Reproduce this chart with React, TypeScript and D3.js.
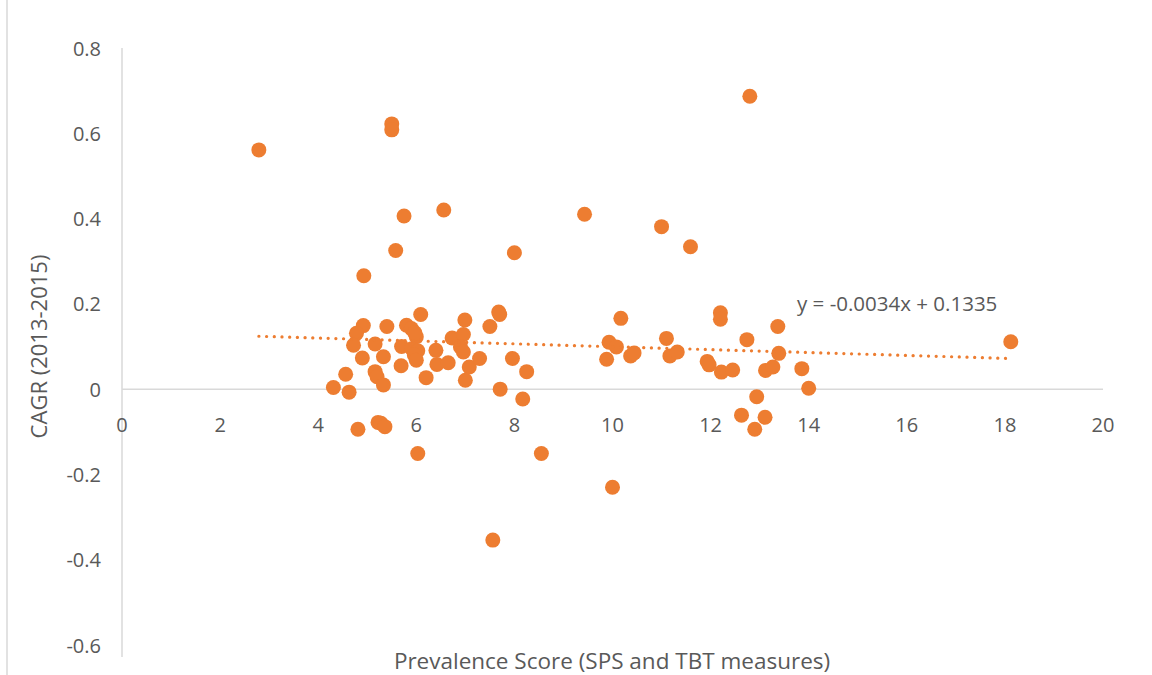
import React from "react";
import * as d3 from "d3";

const prevalence: number[] = [
  2.79, 5.5, 5.5, 5.75, 5.58, 4.93, 6.56, 8.0, 9.43, 11.0, 11.59, 12.8, 18.12,
  4.92, 4.78, 4.72, 4.9, 5.4, 5.16, 5.33, 5.16, 5.2, 5.33, 4.56, 4.31, 4.63,
  5.8, 5.9, 6.09, 6.0, 5.97, 5.7, 5.91, 6.03, 5.96, 6.0, 5.69, 6.2,
  6.4, 6.42, 6.65, 6.73, 6.96, 6.9, 6.96, 6.99, 7.08, 7.0,
  7.29, 7.5, 7.68, 7.7, 7.71, 7.96, 8.25, 8.17,
  4.81, 5.22, 5.28, 5.36, 6.03, 8.55, 10.0, 7.56,
  10.17, 9.93, 10.08, 9.88, 10.37, 10.44, 11.1, 11.17, 11.32, 12.2, 12.2,
  11.93, 11.97, 12.22, 12.45, 12.74, 13.37, 13.39, 13.12, 13.27, 13.86, 14.0,
  12.94, 12.63, 13.11, 12.9,
];

const cagr: number[] = [
  0.561, 0.622, 0.608, 0.406, 0.325, 0.266, 0.42, 0.32, 0.41, 0.381, 0.334, 0.687, 0.111,
  0.149, 0.131, 0.103, 0.073, 0.147, 0.106, 0.076, 0.041, 0.029, 0.01, 0.035, 0.004, -0.007,
  0.15, 0.142, 0.175, 0.123, 0.132, 0.1, 0.095, 0.09, 0.08, 0.068, 0.055, 0.027,
  0.091, 0.058, 0.062, 0.12, 0.128, 0.099, 0.087, 0.162, 0.052, 0.021,
  0.072, 0.147, 0.181, 0.175, 0.0, 0.072, 0.041, -0.023,
  -0.094, -0.078, -0.08, -0.088, -0.151, -0.151, -0.23, -0.354,
  0.166, 0.11, 0.099, 0.07, 0.078, 0.085, 0.119, 0.078, 0.087, 0.179, 0.164,
  0.065, 0.057, 0.04, 0.045, 0.116, 0.147, 0.084, 0.044, 0.052, 0.048, 0.002,
  -0.018, -0.061, -0.066, -0.094,
];

const xTicks: number[] = [0, 2, 4, 6, 8, 10, 12, 14, 16, 18, 20];
const yTicks: number[] = [0.8, 0.6, 0.4, 0.2, 0, -0.2, -0.4, -0.6];

const trendSlope = -0.0034;
const trendIntercept = 0.1335;
const trendLabel = "y = -0.0034x + 0.1335";
const xTitle = "Prevalence Score (SPS and TBT measures)";
const yTitle = "CAGR (2013-2015)";

const W = 1152;
const H = 675;
const FONT = "'Open Sans', 'Liberation Sans', sans-serif";
const ORANGE = "#ED7D31";
const TEXT = "#595959";
const AXIS = "#D9D9D9";

export default function App() {
  const x = d3.scaleLinear().domain([0, 20]).range([122, 1103]);
  const y = d3.scaleLinear().domain([-0.6, 0.8]).range([645, 48]);

  const xMin = d3.min(prevalence) as number;
  const xMax = d3.max(prevalence) as number;
  const trendLine = d3
    .line<number>()
    .x((d) => x(d))
    .y((d) => y(trendSlope * d + trendIntercept));

  const fmt = (v: number) => (v === 0 ? "0" : String(Math.round(v * 10) / 10));

  return (
    <svg
      width={W}
      height={H}
      style={{ position: "absolute", left: 0, top: 0, background: "#fff" }}
      fontFamily={FONT}
    >
      <rect x={0} y={0} width={W} height={H} fill="#fff" />
      <line x1={7} x2={7} y1={0} y2={H} stroke={AXIS} strokeWidth={1.5} />

      {/* axes */}
      <line x1={x(0)} x2={x(0)} y1={y(0.8)} y2={y(-0.6) + 12} stroke={AXIS} strokeWidth={1.5} />
      <line x1={x(0)} x2={x(20)} y1={y(0)} y2={y(0)} stroke={AXIS} strokeWidth={1.5} />

      {yTicks.map((t) => (
        <text
          key={"y" + t}
          x={101}
          y={y(t)}
          textAnchor="end"
          dominantBaseline="central"
          fontSize={20}
          fill={TEXT}
        >
          {fmt(t)}
        </text>
      ))}
      {xTicks.map((t) => (
        <text
          key={"x" + t}
          x={x(t)}
          y={y(0) + 35}
          textAnchor="middle"
          dominantBaseline="central"
          fontSize={20}
          fill={TEXT}
        >
          {t}
        </text>
      ))}

      {/* points */}
      {prevalence.map((px, i) => (
        <circle key={i} cx={x(px)} cy={y(cagr[i])} r={7.5} fill={ORANGE} />
      ))}

      {/* trendline */}
      <path
        d={trendLine([xMin, xMax]) || ""}
        fill="none"
        stroke={ORANGE}
        strokeWidth={3.2}
        strokeDasharray="0.1 7.6"
        strokeLinecap="round"
      />
      <text x={797} y={303} dominantBaseline="central" fontSize={20.5} fill={TEXT}>
        {trendLabel}
      </text>

      {/* titles */}
      <text x={612} y={660} textAnchor="middle" dominantBaseline="central" fontSize={22.5} fill={TEXT}>
        {xTitle}
      </text>
      <text
        transform={`translate(38, ${(y(0.8) + y(-0.6)) / 2}) rotate(-90)`}
        textAnchor="middle"
        dominantBaseline="central"
        fontSize={22}
        fill={TEXT}
      >
        {yTitle}
      </text>
    </svg>
  );
}
